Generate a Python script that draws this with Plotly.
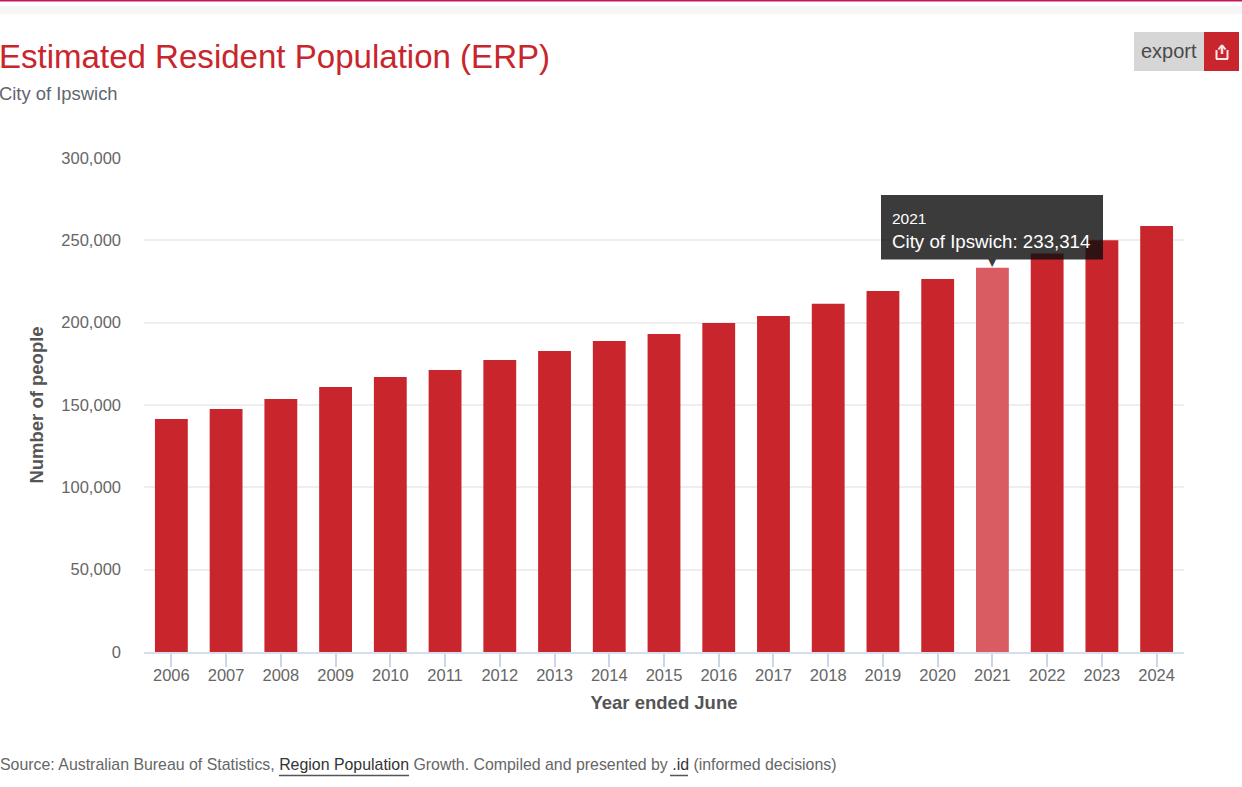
import plotly.graph_objects as go

years = ["2006","2007","2008","2009","2010","2011","2012","2013","2014","2015",
         "2016","2017","2018","2019","2020","2021","2022","2023","2024"]
population = [141500,147600,153600,161000,167000,171300,177300,182800,188900,193100,
              199800,204000,211500,219300,226500,233314,242000,250000,258700]
highlight_year = "2021"
y_ticks = [0,50000,100000,150000,200000,250000,300000]

W,H = 1242,787
L,R,T,B = 144,1184,158,652
def px(x): return (x-L)/(R-L)
def py(y): return (B-y)/(B-T)

RED = "#c8262c"
FONT = "Liberation Sans"
colors = ["#d95c63" if y==highlight_year else RED for y in years]

fig = go.Figure(go.Bar(x=years,y=population,marker=dict(color=colors,line_width=0),width=0.6,
                       name="City of Ipswich",hoverinfo="skip"))

def box(x0,y0,x1,y1,color,layer="above"):
    return dict(type="rect",xref="paper",yref="paper",x0=px(x0),x1=px(x1),y0=py(y0),y1=py(y1),
                fillcolor=color,line_width=0,layer=layer)
def line(x0,y0,x1,y1,color,w=1.5):
    return dict(type="line",xref="paper",yref="paper",x0=px(x0),x1=px(x1),y0=py(y0),y1=py(y1),
                line=dict(color=color,width=w),layer="above")
def text(x,y,s,size,color,anchor="left",**kw):
    return dict(xref="paper",yref="paper",x=px(x),y=py(y),text=s,showarrow=False,xanchor=anchor,
                yanchor="middle",font=dict(family=FONT,size=size,color=color),**kw)

ICON = "#fbe6ea"
shapes = [
    box(0,0,W,1.5,"#c2185b"),
    box(0,6,W,14,"#f6f6f6","below"),
    box(1134,32,1204,71,"#d6d6d6"),
    box(1204,32,1239,71,RED),
    line(1216.5,50,1216.5,59,ICON,2),
    line(1227.5,50,1227.5,59,ICON,2),
    line(1216,59,1228,59,ICON,2),
    line(1222,46,1222,54,ICON,2.5),
    line(1218.5,49.5,1222,45,ICON,2),
    line(1225.5,49.5,1222,45,ICON,2),
    box(881,195,1103,259.5,"rgba(14,14,14,0.81)"),
    line(279,775.5,409,775.5,"#555555",1.5),
    line(670,775.5,688,775.5,"#555555",1.5),
]

annotations = [
    text(-3,56.7,"Estimated Resident Population (ERP)",33.05,"#c8262c"),
    text(-3,93.5,"City of Ipswich",18.4,"#5f6670"),
    text(1169,51,"export",20,"#4a4a4a","center"),
    text(890,218.5,"2021",15.5,"#ffffff"),
    text(890,241.5,"City of Ipswich: 233,314",18.7,"#ffffff"),
    text(-2,764,'Source: Australian Bureau of Statistics, <span style="color:#333333">Region Population</span> Growth. '
               'Compiled and presented by <span style="color:#333333">.id</span> (informed decisions)',15.9,"#666666"),
    dict(x=years.index(highlight_year),y=population[years.index(highlight_year)],xref="x",yref="y",text="▼",showarrow=False,
         yanchor="bottom",yshift=-3,font=dict(family="DejaVu Sans",size=16,color="#3c3c3c")),
]

fig.update_layout(
    width=W,height=H,autosize=False,
    margin=dict(l=L,r=W-R,t=T,b=H-B,pad=0),
    paper_bgcolor="#ffffff",plot_bgcolor="#ffffff",
    showlegend=False,shapes=shapes,annotations=annotations,
    font=dict(family=FONT,color="#666666",size=16.5),
    hovermode=False,
)
fig.update_xaxes(type="category",categoryorder="array",categoryarray=years,range=[-0.5,len(years)-0.5],
                 showgrid=False,showline=True,linecolor="#d5ddee",linewidth=1.5,
                 ticks="outside",ticklen=13,tickcolor="#ccd6eb",tickwidth=1.5,ticklabelstandoff=-6,
                 tickfont=dict(size=16.5,color="#666666"),
                 title=dict(text="<b>Year ended June</b>",font=dict(size=18.5,color="#555555"),standoff=14))
fig.update_yaxes(range=[0,300000],tickvals=y_ticks,tickformat=",",
                 showgrid=True,gridcolor="#eeeeee",gridwidth=1.5,zeroline=False,showline=False,
                 ticks="",ticklabelstandoff=22,
                 tickfont=dict(size=16.5,color="#666666"),
                 title=dict(text="<b>Number of people</b>",font=dict(size=18.5,color="#555555"),standoff=12))

fig.write_html("out.html",config=dict(displayModeBar=False),
               post_script="document.body.style.margin='0';document.documentElement.style.overflow='hidden';")
